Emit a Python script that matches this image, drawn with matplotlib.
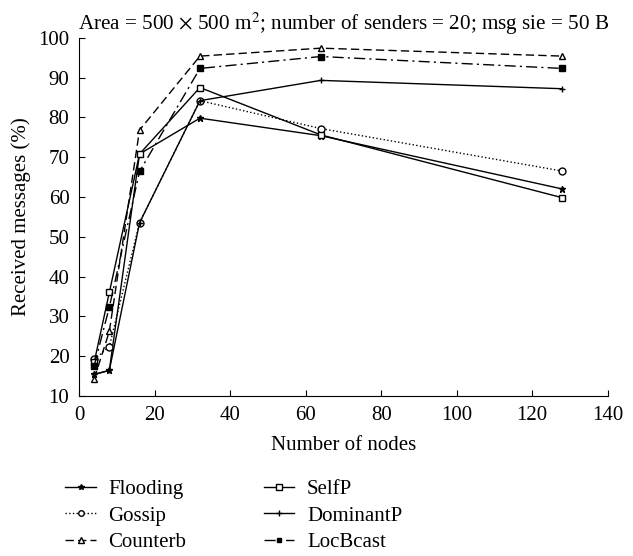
import matplotlib
matplotlib.use("Agg")
import matplotlib.pyplot as plt

plt.rcParams['font.family'] = ['Liberation Serif', 'DejaVu Serif']
plt.rcParams['mathtext.fontset'] = 'stix'

nodes = [4, 8, 16, 32, 64, 128]
flooding = [15.4, 16.4, 70.8, 79.8, 75.4, 62.0]
gossip = [19.2, 22.4, 53.5, 84.2, 77.2, 66.5]
counterb = [14.3, 26.2, 76.8, 95.4, 97.4, 95.4]
selfp = [18.5, 36.0, 70.8, 87.5, 75.6, 59.8]
dominantp = [15.4, 16.4, 53.5, 84.2, 89.3, 87.2]
locbcast = [17.6, 32.3, 66.4, 92.3, 95.3, 92.3]

fig = plt.figure(figsize=(6.33, 5.56), dpi=100)
ax = fig.add_axes([0.125, 0.288, 0.835, 0.644])

kw = dict(color='black', linewidth=1.0, markersize=5)
l1, = ax.plot(nodes, flooding, linestyle='-', marker='*', label='Flooding', **kw)
l2, = ax.plot(nodes, gossip, linestyle=':', marker='o', markerfacecolor='white', label='Gossip', **kw)
l3, = ax.plot(nodes, counterb, linestyle=(0, (6, 3)), marker='^', markerfacecolor='white', label='Counterb', **kw)
l4, = ax.plot(nodes, selfp, linestyle='-', marker='s', markerfacecolor='white', label='SelfP', **kw)
l5, = ax.plot(nodes, dominantp, linestyle='-', marker='+', label='DominantP', **kw)
l6, = ax.plot(nodes, locbcast, linestyle=(0, (8, 3, 1.5, 3)), marker='s', markersize=4, color='black', linewidth=1.0, label='LocBcast')

ax.set_xlim(0, 140)
ax.set_ylim(10, 100)
ax.set_xticks(range(0, 141, 20))
ax.set_yticks(range(10, 101, 10))
ax.spines['top'].set_visible(False)
ax.spines['right'].set_visible(False)
ax.tick_params(direction='in', length=4, labelsize=15, pad=7)
ax.set_xlabel('Number of nodes', fontsize=15, labelpad=8)
ax.set_ylabel('Received messages (%)', fontsize=15, labelpad=5)
ax.set_title(r'Area = 500 $\times$ 500 m$^2$; number of senders = 20; msg sie = 50 B', fontsize=15.2, pad=6)

leg_kw = dict(frameon=False, fontsize=15, loc='center left', borderpad=0, handlelength=1.45,
              labelspacing=0.33, handletextpad=0.6, markerscale=0.8)
fig.legend(handles=[l1, l2, l3], bbox_to_anchor=(0.087, 0.072), **leg_kw)
fig.legend(handles=[l4, l5, l6], bbox_to_anchor=(0.401, 0.072), **leg_kw)

fig.savefig('out.png', dpi=100)
